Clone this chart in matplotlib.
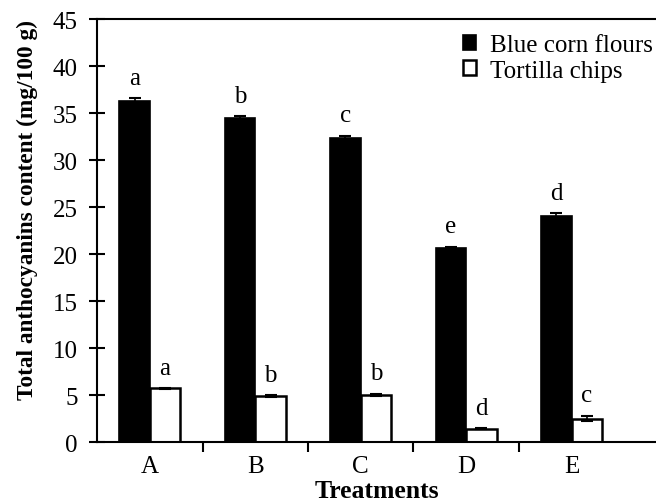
import numpy as np
import matplotlib.pyplot as plt

plt.rcParams['font.family'] = ['Liberation Serif', 'DejaVu Serif']

treatments = ['A', 'B', 'C', 'D', 'E']
flour = [36.3, 34.5, 32.3, 20.6, 24.1]
flour_err = [0.3, 0.15, 0.3, 0.2, 0.25]
chips = [5.7, 4.9, 5.0, 1.4, 2.5]
chips_err = [0.05, 0.1, 0.15, 0.05, 0.3]
flour_letters = ['a', 'b', 'c', 'e', 'd']
chips_letters = ['a', 'b', 'b', 'd', 'c']

x = np.arange(len(treatments))
w = 0.29

fig = plt.figure(figsize=(6.56, 5.02), dpi=100)
ax = fig.add_axes([0.148, 0.1175, 0.852, 0.8425])

ax.bar(x - w / 2, flour, w, color='black', edgecolor='black', linewidth=1.2,
       label='Blue corn flours')
ax.bar(x + w / 2, chips, w, color='white', edgecolor='black', linewidth=1.8,
       label='Tortilla chips')
ax.errorbar(x - w / 2, flour, yerr=flour_err, fmt='none', ecolor='black',
            elinewidth=1.2, capsize=4, capthick=1.5)
ax.errorbar(x + w / 2, chips, yerr=chips_err, fmt='none', ecolor='black',
            elinewidth=1.2, capsize=4, capthick=1.5)

for i in range(len(x)):
    ax.text(x[i] - w / 2, flour[i] + flour_err[i] + 1.0, flour_letters[i],
            ha='center', va='bottom', fontsize=18)
    ax.text(x[i] + w / 2, chips[i] + chips_err[i] + 1.0, chips_letters[i],
            ha='center', va='bottom', fontsize=18)

ax.set_xlim(-0.5, 4.8)
ax.set_ylim(0, 45)
ax.set_yticks(np.arange(0, 46, 5))
ax.set_xticks(x)
ax.set_xticklabels(treatments)
ax.set_xticks(np.arange(0.5, 4, 1), minor=True)
ax.tick_params(axis='x', which='major', length=0, labelsize=18, pad=9)
ax.tick_params(axis='x', which='minor', length=7, width=1.5, direction='out')
ax.tick_params(axis='y', direction='inout', length=12, width=1.5, labelsize=18, pad=8)

ax.spines['right'].set_visible(False)
for s in ['left', 'bottom', 'top']:
    ax.spines[s].set_linewidth(1.5)

ax.set_ylabel('Total anthocyanins content (mg/100 g)', fontsize=16.8,
              fontweight='bold')
ax.yaxis.set_label_coords(-0.106, 0.55)
ax.set_xlabel('Treatments', fontsize=18.5, fontweight='bold', labelpad=2)

leg = ax.legend(loc='upper right', bbox_to_anchor=(1.035, 1.018), frameon=False,
                fontsize=18, handlelength=0.55, handleheight=0.55,
                handletextpad=0.55, labelspacing=0.15)

fig.savefig('out.png', dpi=100)
